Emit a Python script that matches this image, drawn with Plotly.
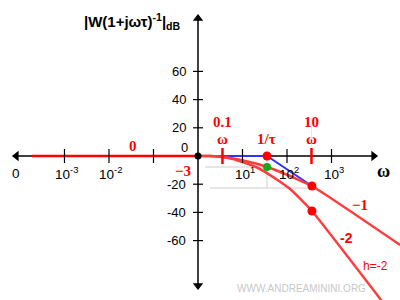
import plotly.graph_objects as go

# ---------------- data ----------------
# x values are log10(omega), y values are dB as drawn in the sketch
decades = [-3, -2, -1, 1, 2, 3]
decade_labels = ["10<sup>-3</sup>", "10<sup>-2</sup>", "", "10<sup>1</sup>", "10<sup>2</sup>", "10<sup>3</sup>"]
db_ticks = [60, 40, 20, -20, -40, -60]

corner_logw = 1.55          # omega = 1/tau
marks_logw = [corner_logw - 1, corner_logw + 1]   # 0.1 omega , 10 omega

flat_logw = [-3.73, 0.0]
flat_db = [0, 0]

asym_logw = [0.55, 1.55, 2.56]
asym_db = [0, 0, -21.3]

h1_logw = [0, 0.27, 0.54, 0.79, 1.06, 1.30, 1.55, 1.82, 2.07, 2.31, 2.56, 4.54]
h1_db = [0, 0, -0.7, -1.8, -3.5, -5.3, -7.8, -11.0, -14.2, -17.7, -21.3, -63.1]

h2_logw = [0, 0.27, 0.54, 0.79, 1.06, 1.30, 1.55, 1.82, 2.07, 2.31, 2.56, 4.20]
h2_db = [0, 0, -0.7, -2.1, -5.0, -7.8, -12.1, -17.7, -23.4, -30.8, -39.0, -105.7]

red_pts_logw = [1.55, 2.56, 2.56]
red_pts_db = [0, -21.3, -39.0]
green_logw = [1.55]
green_db = [-7.8]

# ---------------- layout constants ----------------
X_RANGE = [-4.449, 4.539]
Y_RANGE = [-102.13, 110.64]
AX_LEFT, AX_RIGHT = -4.081, 3.946
AX_TOP, AX_BOTTOM = 97.6, -91.9

SANS = "Liberation Sans, Arial, sans-serif"
SERIF = "Liberation Serif, Times New Roman, serif"
RED = "rgb(255,0,0)"
CURVE = "rgb(255,60,60)"
BLUE = "rgb(50,50,255)"
GREEN = "rgb(20,170,20)"
GRAY = "rgb(205,205,205)"

fig = go.Figure()

# asymptote (blue)
fig.add_trace(go.Scatter(x=asym_logw, y=asym_db, mode="lines",
                         line=dict(color=BLUE, width=2), hoverinfo="skip"))
# real curves
fig.add_trace(go.Scatter(x=h1_logw, y=h1_db, mode="lines",
                         line=dict(color=CURVE, width=2.5, shape="spline", smoothing=0.6), hoverinfo="skip"))
fig.add_trace(go.Scatter(x=h2_logw, y=h2_db, mode="lines",
                         line=dict(color=CURVE, width=2.5, shape="spline", smoothing=0.6), hoverinfo="skip"))
# 0 dB low-frequency line
fig.add_trace(go.Scatter(x=flat_logw, y=flat_db, mode="lines",
                         line=dict(color=RED, width=2.5), hoverinfo="skip"))
# axis arrowheads
fig.add_trace(go.Scatter(x=[AX_LEFT, AX_RIGHT], y=[0, 0], mode="markers",
                         marker=dict(symbol=["triangle-left", "triangle-right"], size=9, color="black"),
                         hoverinfo="skip"))
fig.add_trace(go.Scatter(x=[0, 0], y=[AX_TOP, AX_BOTTOM], mode="markers",
                         marker=dict(symbol=["triangle-up", "triangle-down"], size=9, color="black"),
                         hoverinfo="skip"))
# points
fig.add_trace(go.Scatter(x=red_pts_logw, y=red_pts_db, mode="markers",
                         marker=dict(size=9, color=RED), hoverinfo="skip"))
fig.add_trace(go.Scatter(x=green_logw, y=green_db, mode="markers",
                         marker=dict(size=8, color=GREEN), hoverinfo="skip"))
fig.add_trace(go.Scatter(x=[0], y=[0], mode="markers",
                         marker=dict(size=7, color="black"), hoverinfo="skip"))

shapes = []
# light guide lines
shapes.append(dict(type="line", xref="x", yref="y", x0=0.16, x1=corner_logw, y0=green_db[0], y1=green_db[0],
                   line=dict(color=GRAY, width=1), layer="below"))
shapes.append(dict(type="line", xref="x", yref="y", x0=0.27, x1=red_pts_logw[1], y0=-22.7, y1=-22.7,
                   line=dict(color=GRAY, width=1), layer="below"))
shapes.append(dict(type="line", xref="x", yref="y", x0=corner_logw, x1=corner_logw, y0=0, y1=-22.7,
                   line=dict(color=GRAY, width=1), layer="below"))
shapes.append(dict(type="line", xref="x", yref="y", x0=marks_logw[1], x1=marks_logw[1], y0=27, y1=4,
                   line=dict(color="rgb(232,232,232)", width=1), layer="below"))
# axis lines
shapes.append(dict(type="line", xref="x", yref="y", x0=AX_LEFT, x1=AX_RIGHT, y0=0, y1=0,
                   line=dict(color="black", width=1.5), layer="below"))
shapes.append(dict(type="line", xref="x", yref="y", x0=0, x1=0, y0=AX_BOTTOM, y1=AX_TOP,
                   line=dict(color="black", width=1.5), layer="below"))
# x ticks
for v in decades:
    shapes.append(dict(type="line", xref="x", yref="y", x0=v, x1=v,
                       ysizemode="pixel", yanchor=0, y0=-7, y1=7,
                       line=dict(color="black", width=1.2), layer="above"))
# red marks 0.1 w and 10 w
for v in marks_logw:
    shapes.append(dict(type="line", xref="x", yref="y", x0=v, x1=v,
                       ysizemode="pixel", yanchor=0, y0=-8, y1=8,
                       line=dict(color=RED, width=2.5), layer="above"))
# y ticks
for v in db_ticks:
    shapes.append(dict(type="line", xref="x", yref="y", y0=v, y1=v,
                       xsizemode="pixel", xanchor=0, x0=-5, x1=5,
                       line=dict(color="black", width=1.2), layer="above"))

ann = []


def A(text, x, y, size, color="black", family=SANS, xs=0, ys=0, xanchor="center"):
    ann.append(dict(text=text, x=x, y=y, xref="x", yref="y", showarrow=False,
                    font=dict(size=size, color=color, family=family),
                    xshift=xs, yshift=ys, xanchor=xanchor, yanchor="middle"))


# y tick labels
for v in db_ticks:
    A(str(v), 0, v, 13, xs=-10, xanchor="right")
A("0", 0, 0, 13, xs=-8, ys=9, xanchor="right")
# x tick labels
for v, lbl in zip(decades, decade_labels):
    if lbl:
        A(lbl, v, 0, 13.5, xs=2, ys=-17)
A("0", AX_LEFT, 0, 13.5, ys=-17)
A("<b>ω</b>", 4.157, 0, 18, family=SERIF, ys=-15)
# y-axis title
A("<b>|W(1+jωτ)<sup>-1</sup>|<sub>dB</sub></b>", 0, 95.7, 15, xs=-15, xanchor="right")

# red annotations
A("<b>0</b>", -1.46, 0, 15, color=RED, family=SERIF, ys=10)
A("<b>−3</b>", 0, 0, 15, color=RED, family=SERIF, xs=-5, ys=-15, xanchor="right")
A("<b>0.1</b>", marks_logw[0], 0, 15, color=RED, family=SERIF, ys=34)
A("<b>ω</b>", marks_logw[0], 0, 15, color=RED, family=SERIF, ys=17)
A("<b>1/τ</b>", corner_logw, 0, 15, color=RED, family=SERIF, ys=17)
A("<b>10</b>", marks_logw[1], 0, 15, color=RED, family=SERIF, ys=34)
A("<b>ω</b>", marks_logw[1], 0, 15, color=RED, family=SERIF, ys=17)
A("<b>−1</b>", 3.64, -34.8, 15, color=RED, family=SERIF)
A("<b>-2</b>", 3.326, -58.2, 14, color=RED, family=SANS)
A("h=-2", 3.978, -78.0, 12, color=RED, family=SANS)
# watermark
A("WWW.ANDREAMININI.ORG", 2.315, -94.3, 10, color="rgb(200,200,200)", family=SANS)

fig.update_layout(
    width=400, height=300,
    margin=dict(l=0, r=0, t=0, b=0),
    paper_bgcolor="white", plot_bgcolor="white",
    showlegend=False,
    xaxis=dict(range=X_RANGE, visible=False, fixedrange=True),
    yaxis=dict(range=Y_RANGE, visible=False, fixedrange=True),
    shapes=shapes,
    annotations=ann,
)

fig.write_html("out.html")
